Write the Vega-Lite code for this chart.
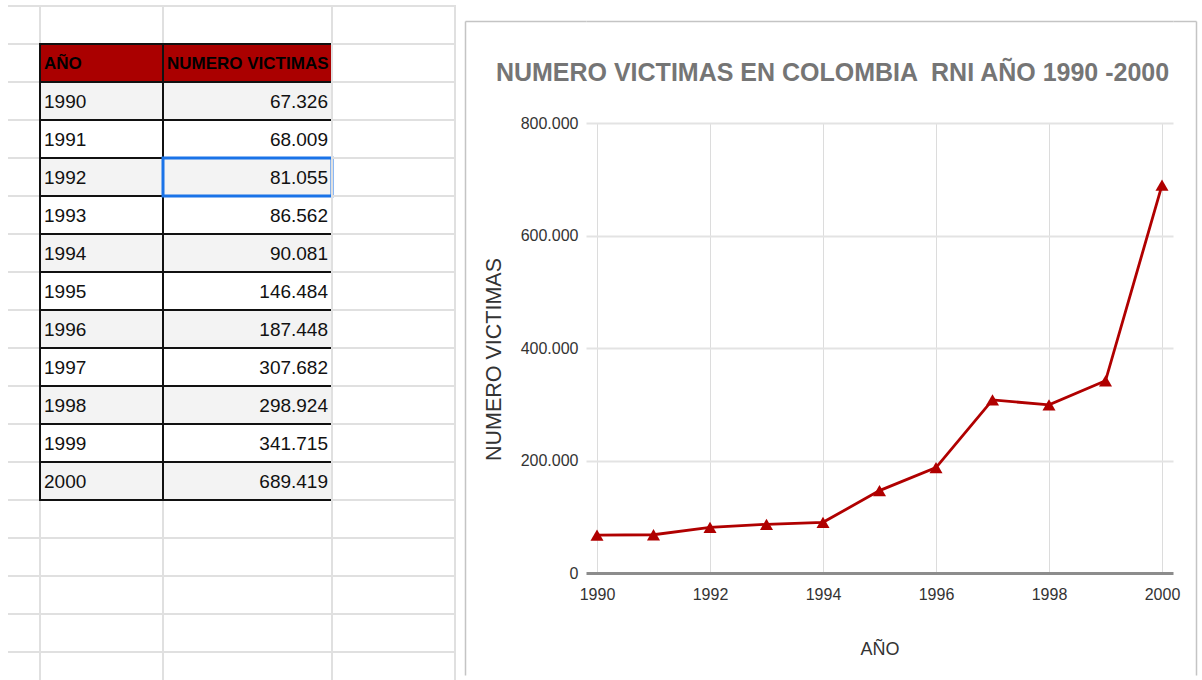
{
  "$schema": "https://vega.github.io/schema/vega-lite/v6.json",
  "padding": {"left": 8, "top": 5, "right": 0, "bottom": 0},
  "background": "white",
  "bounds": "flush",
  "center": true,
  "spacing": 0,
  "datasets": {
    "tabla": [
      {"anio": 1990, "victimas": 67326},
      {"anio": 1991, "victimas": 68009},
      {"anio": 1992, "victimas": 81055},
      {"anio": 1993, "victimas": 86562},
      {"anio": 1994, "victimas": 90081},
      {"anio": 1995, "victimas": 146484},
      {"anio": 1996, "victimas": 187448},
      {"anio": 1997, "victimas": 307682},
      {"anio": 1998, "victimas": 298924},
      {"anio": 1999, "victimas": 341715},
      {"anio": 2000, "victimas": 689419}
    ]
  },
  "config": {
    "locale": {"number": {"decimal": ",", "thousands": ".", "grouping": [3], "currency": ["$", ""]}},
    "view": {"stroke": "#e0e0e0", "strokeWidth": 2},
    "font": "Liberation Sans, Arial, sans-serif"
  },
  "hconcat": [
    {
      "width": 32, "height": 684,
      "view": {"stroke": null},
      "data": {"name": "tabla"},
      "mark": {"type": "rect", "opacity": 0},
      "encoding": {
        "y": {"field": "anio", "type": "ordinal",
          "scale": {"domain": ["_1", "AÑO", 1990, 1991, 1992, 1993, 1994, 1995, 1996, 1997, 1998, 1999, 2000, "_14", "_15", "_16", "_17", "_18"], "paddingInner": 0, "paddingOuter": 0},
          "axis": {"title": null, "labels": false, "ticks": false, "domain": false, "grid": true, "bandPosition": 0, "translate": 0, "gridColor": "#e0e0e0", "gridWidth": 2}}
      }
    },
    {
      "width": 123, "height": 684,
      "data": {"name": "tabla"},
      "encoding": {
        "y": {"field": "anio", "type": "ordinal",
          "scale": {"domain": ["_1", "AÑO", 1990, 1991, 1992, 1993, 1994, 1995, 1996, 1997, 1998, 1999, 2000, "_14", "_15", "_16", "_17", "_18"], "paddingInner": 0, "paddingOuter": 0},
          "axis": {"title": null, "labels": false, "ticks": false, "domain": false, "grid": true, "bandPosition": 0, "translate": 0, "gridColor": "#e0e0e0", "gridWidth": 2,
            "gridOpacity": {"condition": {"test": "indexof(['_1', '_15', '_16', '_17', '_18'], datum.value) >= 0", "value": 1}, "value": 0}}}
      },
      "layer": [
        {
          "mark": {"type": "rect", "strokeWidth": 0},
          "encoding": {
            "fill": {"condition": {"test": "datum.anio % 2 == 0", "value": "#f3f3f3"}, "value": "#ffffff"}
          }
        },
        {
          "data": {"values": [{"texto": "AÑO"}]},
          "mark": {"type": "rect", "fill": "#aa0000", "strokeWidth": 0},
          "encoding": {"y": {"datum": "AÑO", "type": "ordinal"}}
        },
        {
          "mark": {"type": "rect", "fill": null, "fillOpacity": 0, "stroke": "#111111", "strokeWidth": 2}
        },
        {
          "data": {"values": [{"texto": "AÑO"}]},
          "mark": {"type": "rect", "fill": null, "fillOpacity": 0, "stroke": "#111111", "strokeWidth": 2},
          "encoding": {"y": {"datum": "AÑO", "type": "ordinal"}}
        },
        {
          "mark": {"type": "text", "align": "left", "baseline": "middle", "dx": -57.5, "dy": 1, "fontSize": 19, "color": "#111111"},
          "encoding": {"text": {"field": "anio", "type": "nominal"}}
        },
        {
          "data": {"values": [{"texto": "AÑO"}]},
          "mark": {"type": "text", "align": "left", "baseline": "middle", "dx": -57.5, "dy": 1, "fontSize": 17, "fontWeight": "bold", "color": "#000000"},
          "encoding": {"y": {"datum": "AÑO", "type": "ordinal"}, "text": {"field": "texto"}}
        }
      ]
    },
    {
      "width": 169, "height": 684,
      "data": {"name": "tabla"},
      "encoding": {
        "y": {"field": "anio", "type": "ordinal",
          "scale": {"domain": ["_1", "NUMERO VICTIMAS", 1990, 1991, 1992, 1993, 1994, 1995, 1996, 1997, 1998, 1999, 2000, "_14", "_15", "_16", "_17", "_18"], "paddingInner": 0, "paddingOuter": 0},
          "axis": {"title": null, "labels": false, "ticks": false, "domain": false, "grid": true, "bandPosition": 0, "translate": 0, "gridColor": "#e0e0e0", "gridWidth": 2,
            "gridOpacity": {"condition": {"test": "indexof(['_1', '_15', '_16', '_17', '_18'], datum.value) >= 0", "value": 1}, "value": 0}}}
      },
      "layer": [
        {
          "mark": {"type": "rect", "strokeWidth": 0},
          "encoding": {
            "fill": {"condition": {"test": "datum.anio % 2 == 0", "value": "#f3f3f3"}, "value": "#ffffff"}
          }
        },
        {
          "data": {"values": [{"texto": "NUMERO VICTIMAS"}]},
          "mark": {"type": "rect", "fill": "#aa0000", "strokeWidth": 0},
          "encoding": {"y": {"datum": "NUMERO VICTIMAS", "type": "ordinal"}}
        },
        {
          "mark": {"type": "rect", "fill": null, "fillOpacity": 0, "stroke": "#111111", "strokeWidth": 2}
        },
        {
          "data": {"values": [{"texto": "NUMERO VICTIMAS"}]},
          "mark": {"type": "rect", "fill": null, "fillOpacity": 0, "stroke": "#111111", "strokeWidth": 2},
          "encoding": {"y": {"datum": "NUMERO VICTIMAS", "type": "ordinal"}}
        },
        {
          "transform": [{"filter": "datum.anio == 1992"}],
          "mark": {"type": "rect", "fill": null, "fillOpacity": 0, "stroke": "#1a73e8", "strokeWidth": 3}
        },
        {
          "mark": {"type": "text", "align": "right", "baseline": "middle", "dx": 80.5, "dy": 1, "fontSize": 19, "color": "#111111"},
          "encoding": {"text": {"field": "victimas", "type": "quantitative", "format": ",d"}}
        },
        {
          "data": {"values": [{"texto": "NUMERO VICTIMAS"}]},
          "mark": {"type": "text", "align": "left", "baseline": "middle", "dx": -80.5, "dy": 1, "fontSize": 17, "fontWeight": "bold", "color": "#000000"},
          "encoding": {"y": {"datum": "NUMERO VICTIMAS", "type": "ordinal"}, "text": {"field": "texto"}}
        }
      ]
    },
    {
      "width": 123, "height": 684,
      "data": {"name": "tabla"},
      "mark": {"type": "rect", "opacity": 0},
      "encoding": {
        "y": {"field": "anio", "type": "ordinal",
          "scale": {"domain": ["_1", "AÑO", 1990, 1991, 1992, 1993, 1994, 1995, 1996, 1997, 1998, 1999, 2000, "_14", "_15", "_16", "_17", "_18"], "paddingInner": 0, "paddingOuter": 0},
          "axis": {"title": null, "labels": false, "ticks": false, "domain": false, "grid": true, "bandPosition": 0, "translate": 0, "gridColor": "#e0e0e0", "gridWidth": 2}}
      }
    },
    {
      "width": 10, "height": 450,
      "view": {"stroke": null},
      "data": {"name": "tabla"},
      "mark": {"type": "rect", "opacity": 0},
      "encoding": {}
    },
    {
      "width": 121, "height": 654,
      "view": {"stroke": null},
      "data": {"name": "tabla"},
      "mark": {"type": "point", "opacity": 0},
      "encoding": {
        "x": {"field": "anio", "type": "quantitative", "axis": {"orient": "top", "domain": true, "domainColor": "#c4c4c4", "domainWidth": 1.5, "labels": false, "ticks": false, "grid": false, "title": null}},
        "y": {"field": "victimas", "type": "quantitative", "axis": {"orient": "left", "domain": true, "domainColor": "#c4c4c4", "domainWidth": 1.5, "labels": false, "ticks": false, "grid": false, "title": null}}
      }
    },
    {
      "width": 587, "height": 450,
      "view": {"stroke": null},
      "data": {"name": "tabla"},
      "title": {"text": "NUMERO VICTIMAS EN COLOMBIA \u00a0RNI AÑO 1990 -2000", "fontSize": 25, "fontWeight": "bold", "color": "#757575", "anchor": "middle", "dx": -47, "dy": 85, "baseline": "alphabetic", "offset": 0},
      "resolve": {"axis": {"x": "independent"}},
      "encoding": {
        "y": {"field": "victimas", "type": "quantitative",
          "scale": {"domain": [0, 800000], "nice": false},
          "axis": {"values": [0, 200000, 400000, 600000, 800000], "format": ",d", "grid": true,
            "gridColor": {"condition": {"test": "datum.value === 0", "value": "#8c8c8c"}, "value": "#e3e3e3"},
            "gridWidth": {"condition": {"test": "datum.value === 0", "value": 3}, "value": 2},
            "domain": false, "ticks": false, "labelFontSize": 16, "labelColor": "#333333", "labelPadding": 8,
            "title": "NUMERO VICTIMAS", "titleFontSize": 21.5, "titleFontWeight": "normal", "titleColor": "#333333", "titlePadding": 15, "titleY": 236}}
      },
      "layer": [
        {
          "mark": {"type": "line", "color": "#b00000", "strokeWidth": 2.8},
          "encoding": {
            "x": {"field": "anio", "type": "quantitative",
              "scale": {"domain": [1990, 2000], "padding": 11, "nice": false, "zero": false},
              "axis": {"orient": "bottom", "values": [1990, 1992, 1994, 1996, 1998, 2000], "format": "d", "grid": true, "gridColor": "#dcdcdc", "gridWidth": 1, "domain": false, "ticks": false, "labelFontSize": 16, "labelColor": "#333333", "labelPadding": 13, "title": "AÑO", "titleFontSize": 18, "titleFontWeight": "normal", "titleColor": "#333333", "titlePadding": 38}}
          }
        },
        {
          "mark": {"type": "point", "shape": "triangle-up", "filled": true, "color": "#b00000", "size": 170, "opacity": 1},
          "encoding": {
            "x": {"field": "anio", "type": "quantitative",
              "scale": {"domain": [1990, 2000], "padding": 11, "nice": false, "zero": false},
              "axis": {"orient": "top", "offset": 102, "domain": true, "domainColor": "#c4c4c4", "domainWidth": 1.5, "labels": false, "ticks": false, "grid": false, "title": null}}
          }
        }
      ]
    },
    {
      "width": 23, "height": 654,
      "view": {"stroke": null},
      "data": {"name": "tabla"},
      "mark": {"type": "point", "opacity": 0},
      "encoding": {
        "x": {"field": "anio", "type": "quantitative", "axis": {"orient": "top", "domain": true, "domainColor": "#c4c4c4", "domainWidth": 1.5, "labels": false, "ticks": false, "grid": false, "title": null}},
        "y": {"field": "victimas", "type": "quantitative", "axis": {"orient": "right", "domain": true, "domainColor": "#c4c4c4", "domainWidth": 1.5, "labels": false, "ticks": false, "grid": false, "title": null}}
      }
    }
  ]
}
